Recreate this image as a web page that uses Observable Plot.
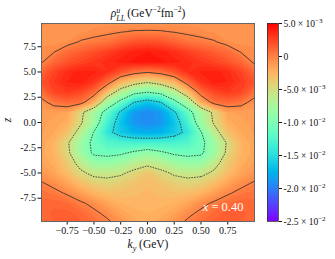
<!DOCTYPE html>
<html><head><meta charset="utf-8">
<script src="https://cdn.jsdelivr.net/npm/d3@7"></script>
<script src="https://cdn.jsdelivr.net/npm/@observablehq/plot@0.6"></script>
<style>
body{margin:0;background:#fff;}
#wrap{position:relative;width:335px;height:259px;overflow:hidden;font-family:"Liberation Serif","Times New Roman",serif;color:#111;}
#main{position:absolute;left:0;top:0;}
#cbar{position:absolute;left:262px;top:0;}
#title{position:absolute;top:3px;left:0;width:296px;text-align:center;font-size:11.5px;line-height:14px;white-space:nowrap;}
.ss{display:inline-block;vertical-align:-4px;line-height:8px;font-size:8px;font-style:italic;text-align:left;margin-right:2px;}
.sup{font-size:7.5px;vertical-align:5px;}
#xlab{position:absolute;top:238px;left:0;width:296px;text-align:center;font-size:11.5px;}
#ylab{position:absolute;left:5px;top:114px;font-size:11.5px;font-style:italic;transform:rotate(-90deg);}
</style></head><body>
<div id="wrap">
<div id="main"></div><div id="cbar"></div>
<div id="title"><i>ρ</i><span class="ss">u<br>LL</span>(GeV<span class="sup">−2</span>fm<span class="sup">−2</span>)</div>
<div id="xlab"><i>k</i><sub style="font-size:8px;font-style:italic">y</sub> (GeV)</div>
<div id="ylab">z</div>
</div>
<script>
// grid coordinates
const ky = [-1,-0.875,-0.75,-0.625,-0.5,-0.375,-0.25,-0.125,0,0.125,0.25,0.375,0.5,0.625,0.75,0.875,1];
const zs = [10,9,8,7,6,5,4,3,2,1,0,-1,-2,-3,-4,-5,-6,-7,-8,-9,-10];
// rho values in units of 1e-3 GeV^-2 fm^-2, one row per z (top to bottom), columns along ky
const rho = [
 [-0.5,-0.6,-0.7,-0.8,-0.8,-0.8,-0.9,-1.0,-1.0,-1.0,-0.9,-0.8,-0.8,-0.8,-0.7,-0.6,-0.5],
 [-0.7,-0.8,-0.8,-0.7,-0.5,-0.3,-0.1,0.1,0.15,0.1,-0.1,-0.3,-0.5,-0.7,-0.8,-0.8,-0.7],
 [-0.7,-0.8,-0.6,0.1,0.4,0.7,1.4,2.0,2.2,2.0,1.4,0.7,0.4,0.1,-0.6,-0.8,-0.7],
 [-0.5,-0.1,1.0,1.6,2.2,2.8,3.5,4.0,4.2,4.0,3.5,2.8,2.2,1.6,1.0,-0.1,-0.5],
 [-0.3,1.2,2.0,2.6,3.1,3.6,4.0,4.3,4.5,4.3,4.0,3.6,3.1,2.6,2.0,1.2,-0.3],
 [1.2,2.6,3.6,4.0,3.9,3.4,2.0,0.8,0.2,0.8,2.0,3.4,3.9,4.0,3.6,2.6,1.2],
 [2.0,3.0,3.8,4.0,3.2,1.0,-2.3,-3.8,-4.8,-3.8,-2.3,1.0,3.2,4.0,3.8,3.0,2.0],
 [0.8,2.5,3.0,2.5,1.0,-3.0,-6.5,-9.0,-10.0,-9.0,-6.5,-3.0,1.0,2.5,3.0,2.5,0.8],
 [-0.7,0.7,1.2,0.8,-2.0,-7.5,-11,-15,-16.5,-15,-11,-7.5,-2.0,0.8,1.2,0.7,-0.7],
 [-1.2,-1.3,-1.5,-4.3,-7.5,-11.5,-15.5,-18.5,-19.4,-18.5,-15.5,-11.5,-7.5,-4.3,-1.5,-1.3,-1.2],
 [-1.3,-1.5,-2.0,-4.6,-8.0,-13.0,-16.5,-18.8,-19.3,-18.8,-16.5,-13.0,-8.0,-4.6,-2.0,-1.5,-1.3],
 [-1.3,-1.8,-3.0,-6.2,-10.2,-14.2,-16.2,-17.3,-17.6,-17.3,-16.2,-14.2,-10.2,-6.2,-3.0,-1.8,-1.3],
 [-1.5,-2.3,-4.6,-8.0,-10.8,-12.3,-12.8,-13.0,-13.0,-13.0,-12.8,-12.3,-10.8,-8.0,-4.6,-2.3,-1.5],
 [-1.6,-2.3,-4.3,-8.0,-10.5,-10.8,-10.5,-9.5,-8.5,-9.5,-10.5,-10.8,-10.5,-8.0,-4.3,-2.3,-1.6],
 [-1.3,-2.0,-3.5,-6.0,-8.3,-8.5,-7.8,-6.5,-5.8,-6.5,-7.8,-8.5,-8.3,-6.0,-3.5,-2.0,-1.3],
 [-0.8,-1.5,-2.8,-4.5,-5.7,-5.8,-5.4,-4.3,-3.1,-4.3,-5.4,-5.8,-5.7,-4.5,-2.8,-1.5,-0.8],
 [0.2,-0.5,-1.5,-2.8,-3.8,-4.2,-3.8,-3.2,-2.7,-3.2,-3.8,-4.2,-3.8,-2.8,-1.5,-0.5,0.2],
 [0.8,0.5,-0.2,-1.2,-2.2,-2.8,-2.9,-2.7,-2.5,-2.7,-2.9,-2.8,-2.2,-1.2,-0.2,0.5,0.8],
 [1.2,1.3,1.0,0.3,-0.5,-1.5,-2.2,-2.4,-2.4,-2.4,-2.2,-1.5,-0.5,0.3,1.0,1.3,1.2],
 [1.2,1.5,1.6,1.2,0.4,-0.4,-1.4,-2.0,-2.2,-2.0,-1.4,-0.4,0.4,1.2,1.6,1.5,1.2],
 [1.1,1.4,1.6,1.5,1.0,0.4,-0.6,-1.5,-2.0,-1.5,-0.6,0.4,1.0,1.5,1.6,1.4,1.1]
];
const lineLevelsNeg = [-15, -10, -5];
const lineLevelsPos = [0];
const xTicks = [-0.75,-0.5,-0.25,0,0.25,0.5,0.75];
const zTicks = [-7.5,-5,-2.5,0,2.5,5,7.5];
const cbTicks = [5,0,-5,-10,-15,-20,-25];
const cbMant = ["5.0 × 10","0","-5.0 × 10","-1.0 × 10","-1.5 × 10","-2.0 × 10","-2.5 × 10"];
const cbExp = ["−3","","−3","−2","−2","−2","−2"];
const annotation = ["x = 0.40"];

const values = rho.flat();
const W = ky.length, H = zs.length;
const dx = (ky[W-1]-ky[0])/(W-1), dz = (zs[0]-zs[H-1])/(H-1);
const grid = {width: W, height: H, x1: ky[0]-dx/2, x2: ky[W-1]+dx/2, y1: zs[0]+dz/2, y2: zs[H-1]-dz/2};

const rainbow = t => {
  t = Math.max(0, Math.min(1, t));
  const r = Math.min(1, Math.abs(2*t-0.5)), g = Math.max(0, Math.sin(Math.PI*t)), b = Math.max(0, Math.cos(Math.PI*t/2));
  return `rgb(${Math.round(255*r)},${Math.round(255*g)},${Math.round(255*b)})`;
};
const colorOpt = {type: "linear", domain: [-25, 5], interpolate: rainbow};
const fillThresholds = d3.range(-25, 5.001, 0.4);

const main = Plot.plot({
  width: 262, height: 259,
  marginLeft: 41, marginRight: 8, marginTop: 23, marginBottom: 38,
  style: {fontFamily: "Liberation Serif, serif", fontSize: "10px", background: "transparent", color: "#111"},
  x: {domain: [-0.99, 1.0], ticks: xTicks, tickFormat: d => d.toFixed(2).replace("-", "−"), tickSize: 3.5, tickPadding: 2, label: null},
  y: {domain: [-9.8, 9.8], ticks: zTicks, tickFormat: d => d.toFixed(1), tickSize: 3.5, tickPadding: 2, label: null},
  color: colorOpt,
  marks: [
    Plot.contour(values, {...grid, fill: Plot.identity, stroke: "none", thresholds: fillThresholds, clip: true}),
    Plot.contour(values, {...grid, value: Plot.identity, thresholds: lineLevelsNeg, fill: "none", stroke: "#2a2a2a", strokeWidth: 0.8, strokeDasharray: "1.6,1.1", clip: true}),
    Plot.contour(values, {...grid, value: Plot.identity, thresholds: lineLevelsPos, fill: "none", stroke: "#2a2a2a", strokeWidth: 0.8, clip: true}),
    Plot.frame({stroke: "#666", strokeWidth: 1}),
    Plot.text(annotation, {frameAnchor: "bottom-right", dx: -11, dy: -11, textAnchor: "end", lineAnchor: "bottom", fill: "white", fontSize: 12.5, text: d => d})
  ]
});
document.getElementById("main").appendChild(main);
// italic x in annotation
d3.select(main).selectAll('g[aria-label="text"] text').each(function() {
  const t = d3.select(this); const s = t.text();
  t.text(""); t.append("tspan").attr("font-style", "italic").text(s.slice(0,1)); t.append("tspan").text(s.slice(1));
});

const bands = d3.range(-25, 5, 0.2);
const cb = Plot.plot({
  width: 73, height: 259,
  marginLeft: 5, marginRight: 57, marginTop: 23, marginBottom: 38,
  style: {fontFamily: "Liberation Serif, serif", fontSize: "9.5px", background: "transparent", color: "#111"},
  x: {axis: null, domain: [0, 1]},
  y: {domain: [-25, 5], axis: "right", ticks: cbTicks, tickFormat: d => cbMant[cbTicks.indexOf(d)], tickSize: 3, tickPadding: 2, label: null},
  color: colorOpt,
  marks: [
    Plot.rect(bands, {x1: 0, x2: 1, y1: d => d, y2: d => Math.min(5, d + 0.35), fill: d => d + 0.1}),
    Plot.frame({stroke: "#333", strokeWidth: 0.8})
  ]
});
document.getElementById("cbar").appendChild(cb);
d3.select(cb).selectAll('g[aria-label="y-axis tick label"] text').each(function(d, i) {
  const t = d3.select(this);
  const k = cbMant.indexOf(t.text());
  if (k >= 0 && cbExp[k]) t.append("tspan").attr("dy", "-0.45em").attr("font-size", "7px").text(cbExp[k]);
});
</script>
</body></html>
